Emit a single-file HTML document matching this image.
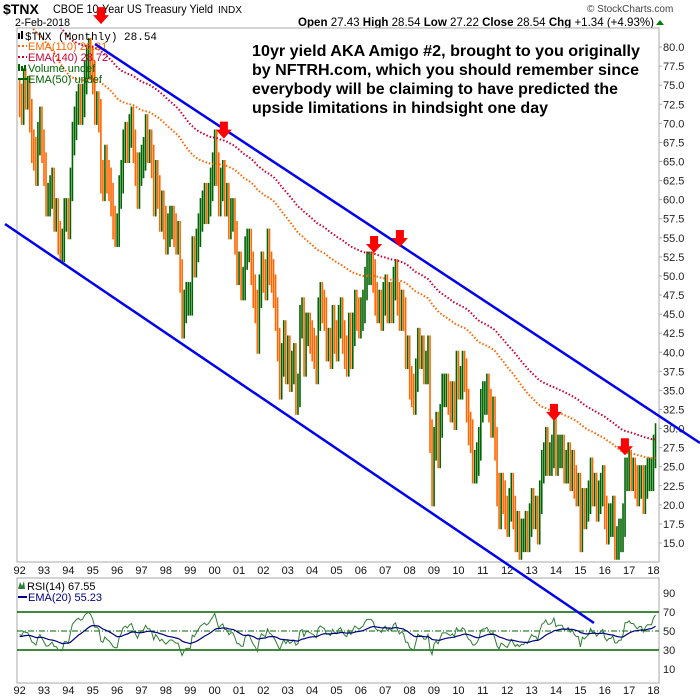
<!DOCTYPE html>
<html><head><meta charset="utf-8"><style>
html,body{margin:0;padding:0;background:#fff;}
svg{display:block;font-family:"Liberation Sans",sans-serif;}
</style></head><body>
<svg id="chart" width="700" height="700" viewBox="0 0 700 700" xmlns="http://www.w3.org/2000/svg">
<defs>
<clipPath id="mainClip"><rect x="17" y="28" width="642" height="534"/></clipPath>
<clipPath id="rsiClip"><rect x="17" y="578" width="642" height="105"/></clipPath>
</defs>
<rect width="700" height="700" fill="#fff"/>
<g>
<text x="3" y="14" font-size="14" font-weight="bold">$TNX</text>
<text x="53" y="13" font-size="12" textLength="160" lengthAdjust="spacingAndGlyphs">CBOE 10-Year US Treasury Yield</text>
<text x="218" y="13" font-size="10" textLength="24" lengthAdjust="spacingAndGlyphs">INDX</text>
<text x="15" y="26" font-size="11" textLength="55" lengthAdjust="spacingAndGlyphs">2-Feb-2018</text>
<text x="587" y="12" font-size="10" fill="#444">© StockCharts.com</text>
<text x="298" y="26" font-size="12" textLength="356" lengthAdjust="spacingAndGlyphs"><tspan font-weight="bold">Open</tspan> 27.43 <tspan font-weight="bold">High</tspan> 28.54 <tspan font-weight="bold">Low</tspan> 27.22 <tspan font-weight="bold">Close</tspan> 28.54 <tspan font-weight="bold">Chg</tspan> +1.34 (+4.93%)</text>
<path d="M656 25 L664 25 L660 20 Z" fill="#008000"/>
</g>
<rect x="17" y="28" width="642" height="534" fill="none" stroke="#aaa" stroke-width="1"/>
<rect x="17" y="578" width="642" height="105" fill="none" stroke="#aaa" stroke-width="1"/>
<g id="mainAxis"></g>
<g id="rsiAxis"></g>
<g id="xAxis1"></g>
<g id="xAxis2"></g>
<g id="bars" clip-path="url(#mainClip)"></g>
<g id="emas" clip-path="url(#mainClip)"></g>
<g id="rsiG" clip-path="url(#rsiClip)"></g>
<g>
<rect x="18" y="33" width="2" height="6" fill="#000"/><rect x="21" y="31" width="2" height="8" fill="#000"/>
<text x="25" y="40" font-size="11" font-family="Liberation Mono, monospace">$TNX (Monthly) 28.54</text>
<line x1="18" y1="46" x2="27" y2="46" stroke="#ff6600" stroke-width="2" stroke-dasharray="2,2"/>
<text x="28" y="50" font-size="11" fill="#ff6600">EMA(110) 26.21</text>
<line x1="18" y1="57" x2="27" y2="57" stroke="#cc0033" stroke-width="2" stroke-dasharray="2,2"/>
<text x="28" y="61" font-size="11" fill="#cc0033">EMA(140) 28.72</text>
<rect x="18" y="64" width="2" height="7" fill="#006400"/><rect x="21" y="66" width="2" height="5" fill="#006400"/><rect x="24" y="65" width="2" height="6" fill="#006400"/>
<text x="28" y="72" font-size="11" fill="#006400">Volume undef</text>
<line x1="18" y1="79" x2="27" y2="79" stroke="#006400" stroke-width="2"/>
<text x="28" y="83" font-size="11" fill="#006400">EMA(50) undef</text>
</g>
<g>
<path d="M18 589 L20 582 L22 586 L24 581 L25 589 Z" fill="#2e7d32"/>
<text x="27" y="590" font-size="11">RSI(14) 67.55</text>
<line x1="18" y1="597" x2="27" y2="597" stroke="#000080" stroke-width="2"/>
<text x="28" y="601" font-size="11" fill="#000080">EMA(20) 55.23</text>
</g>
<g font-size="16" font-weight="bold">
<text x="252" y="56" textLength="388" lengthAdjust="spacingAndGlyphs">10yr yield AKA Amigo #2, brought to you originally</text>
<text x="252" y="75" textLength="387" lengthAdjust="spacingAndGlyphs">by NFTRH.com, which you should remember since</text>
<text x="252" y="94" textLength="366" lengthAdjust="spacingAndGlyphs">everybody will be claiming to have predicted the</text>
<text x="252" y="113" textLength="296" lengthAdjust="spacingAndGlyphs">upside limitations in hindsight one day</text>
</g>
<line x1="95" y1="44" x2="700" y2="443" stroke="#0000ee" stroke-width="2.5"/>
<line x1="5" y1="224" x2="594" y2="623" stroke="#0000ee" stroke-width="2.5"/>
<g id="arrows"></g>
</svg>
<script>
const closes = [
73,72,75,74,74,71,67,66,64,68,70,67,
64,60,60,61,62,58,58,55,54,54,58,58,
57,62,68,70,72,73,72,73,76,78,79,78,
76,72,72,71,63,62,65,63,62,60,57,56,
56,61,63,67,68,67,69,70,67,64,61,64,
65,66,69,67,67,65,60,63,61,58,59,57,
55,56,57,57,56,55,55,50,44,46,47,47,
47,53,52,54,56,58,59,60,59,60,62,64,
67,64,60,62,63,60,60,57,58,58,55,51,
51,49,49,53,54,54,51,48,46,42,48,51,
50,49,54,51,50,48,45,41,36,39,42,38,
40,37,38,39,34,35,44,45,39,43,43,42,
41,40,38,45,47,46,45,41,41,40,44,42,
41,44,45,42,40,39,43,40,43,46,45,44,
45,46,49,51,51,51,50,47,46,46,45,47,
48,46,47,46,49,50,47,45,46,45,40,40,
36,35,34,37,41,40,40,38,38,40,29,22,
28,30,27,31,35,35,35,34,33,34,32,38,
36,36,38,37,33,30,29,25,25,26,28,33,
34,34,35,33,31,32,28,22,19,22,21,19,
18,20,22,19,16,17,15,16,16,17,16,18,
20,19,19,17,21,25,26,28,26,26,27,30,
26,27,27,27,25,25,26,24,25,23,22,22,
16,20,19,20,21,24,22,22,20,21,22,23,
19,17,18,18,19,15,15,16,16,18,24,24,
25,24,24,23,22,23,23,21,23,24,24,24,
27,28.5
];
const yearTicks = ["92","93","94","95","96","97","98","99","00","01","02","03","04","05","06","07","08","09","10","11","12","13","14","15","16","17","18"];
const priceTicks = [15,17.5,20,22.5,25,27.5,30,32.5,35,37.5,40,42.5,45,47.5,50,52.5,55,57.5,60,62.5,65,67.5,70,72.5,75,77.5,80];
const rsiTicks = [10,30,50,70,90];
const arrowTimes = [1995.38, 2000.42, 2006.58, 2007.64, 2013.96, 2016.87];
const arrowValues = [83.0, 68.0, 53.0, 53.8, 31.0, 26.5];

const NS="http://www.w3.org/2000/svg";
function mk(tag,attrs,parent){const e=document.createElementNS(NS,tag);for(const k in attrs)e.setAttribute(k,attrs[k]);parent.appendChild(e);return e;}
const xT = t => 18.6 + (t-1992)*24.38;
const xM = i => xT(1992 + (i+0.5)/12);
const yP = v => 543 - (v-15)*7.63;
const yR = v => 631 - (v-50)*0.95;

const ma=document.getElementById('mainAxis');
priceTicks.forEach(v=>{const t=mk('text',{x:663,y:yP(v)+4,'font-size':11,fill:'#222'},ma);t.textContent=v.toFixed(1);


mk('line',{x1:659,x2:662,y1:yP(v),y2:yP(v),stroke:'#aaa'},ma);});
const ra=document.getElementById('rsiAxis');
rsiTicks.forEach(v=>{const t=mk('text',{x:663,y:yR(v)+4,'font-size':11,fill:'#222'},ra);t.textContent=v;

});
[['xAxis1',574],['xAxis2',694]].forEach(([id,y])=>{const g=document.getElementById(id);
yearTicks.forEach((lab,i)=>{const t=mk('text',{x:xT(1992+i)+1,y:y,'font-size':11,'text-anchor':'middle',fill:'#111'},g);t.textContent=lab;

});});

const bg=document.getElementById('bars');
closes.forEach((c,i)=>{const o=i>0?closes[i-1]:c+0.5;const up=c>=o;const col=up?'#006400':'#ff6600';
const h=Math.max(o,c)+2.2,l=Math.min(o,c)-2.2;const x=xM(i);
const ln=mk('line',{x1:x,x2:x,y1:yP(h),y2:yP(l),stroke:col,'stroke-width':1.6},bg);

});

function ema(arr,n,seed){const a=2/(n+1);let e=seed;return arr.map(v=>(e=e+a*(v-e)));}
const eg=document.getElementById('emas');
[[110,84,'#ff6600','ema-110'],[140,89,'#cc0033','ema-140']].forEach(([n,s,col,name])=>{
const e=ema(closes,n,s);const p=mk('path',{d:e.map((v,i)=>(i?'L':'M')+xM(i).toFixed(1)+' '+yP(v).toFixed(1)).join(' '),fill:'none',stroke:col,'stroke-width':2,'stroke-dasharray':'1.5,2'},eg);

});

const rg=document.getElementById('rsiG');
mk('line',{x1:17,x2:659,y1:yR(70),y2:yR(70),stroke:'#006400','stroke-width':1.5},rg);
mk('line',{x1:17,x2:659,y1:yR(30),y2:yR(30),stroke:'#006400','stroke-width':1.5},rg);
mk('line',{x1:17,x2:659,y1:yR(50),y2:yR(50),stroke:'#006400','stroke-width':1,'stroke-dasharray':'6,2,1,2'},rg);
let ag=1.3,al=1.5;const rsi=closes.map((c,i)=>{const d=i?c-closes[i-1]:0;ag=(ag*13+Math.max(d,0))/14;al=(al*13+Math.max(-d,0))/14;return 100-100/(1+ag/(al||1e-6));});
const rsiE=ema(rsi,20,44);
const rp=mk('path',{d:rsi.map((v,i)=>(i?'L':'M')+xM(i).toFixed(1)+' '+yR(v).toFixed(1)).join(' '),fill:'none',stroke:'#2e7d32','stroke-width':1},rg);


const rep=mk('path',{d:rsiE.map((v,i)=>(i?'L':'M')+xM(i).toFixed(1)+' '+yR(v).toFixed(1)).join(' '),fill:'none',stroke:'#000080','stroke-width':1.2},rg);



const ag2=document.getElementById('arrows');
arrowTimes.forEach((t,i)=>{const x=xT(t),y=yP(arrowValues[i]);
const a=mk('path',{d:`M${x-4} ${y-17} h8 v8 h4 l-8 9 l-8 -9 h4 Z`,fill:'#ff0000'},ag2);

});
</script>
</body></html>
